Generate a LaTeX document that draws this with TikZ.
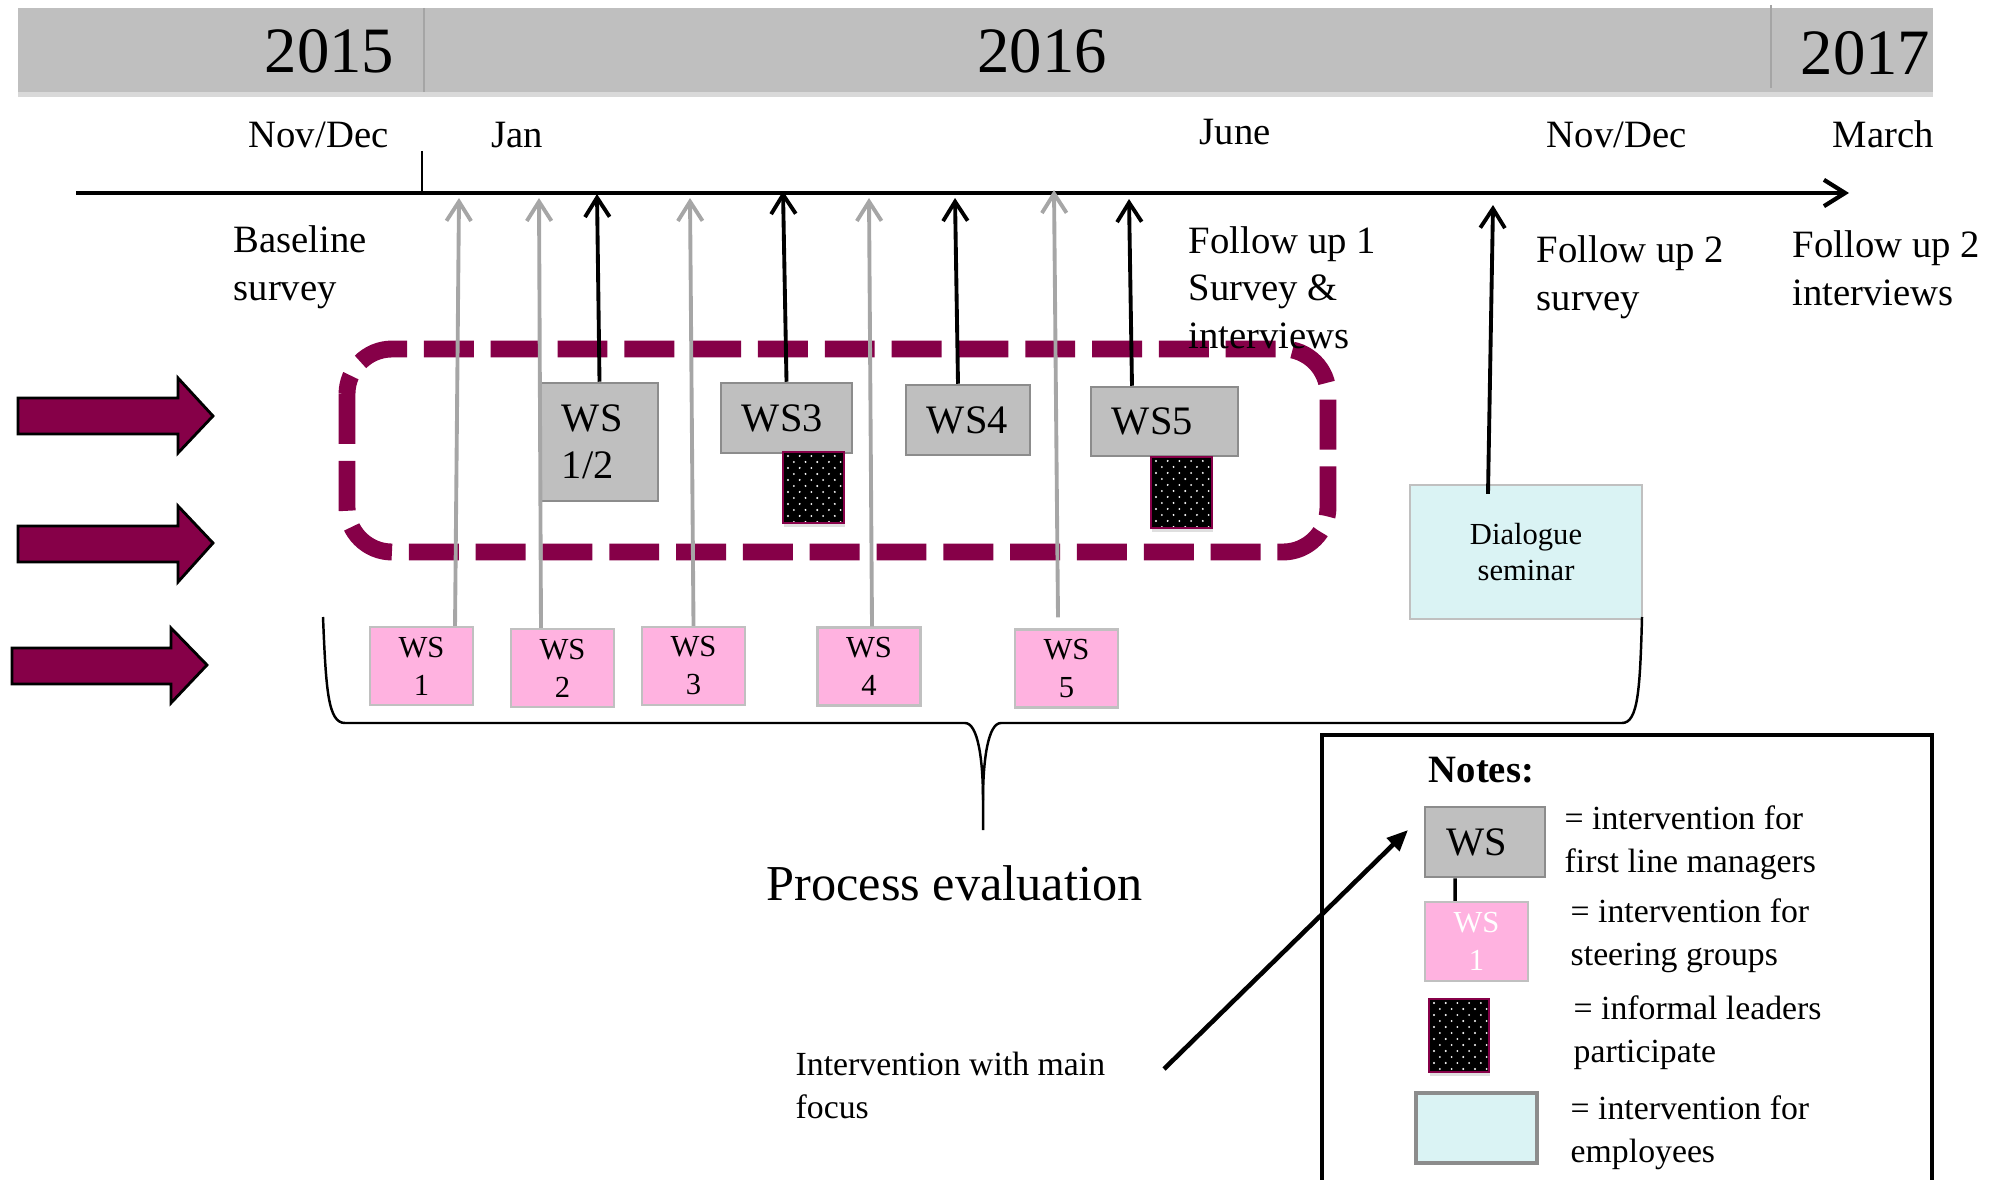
\documentclass[tikz,border=0pt]{standalone}
\usepackage{fontspec}
\setmainfont{Liberation Serif}
\usetikzlibrary{arrows.meta,shadows,calc}
\definecolor{band}{RGB}{191,191,191}
\definecolor{bandline}{RGB}{165,165,165}
\definecolor{maroon}{RGB}{134,0,72}
\definecolor{agray}{RGB}{166,166,166}
\definecolor{boxgray}{RGB}{191,191,191}
\definecolor{boxedge}{RGB}{140,140,140}
\definecolor{pinkfill}{RGB}{255,178,224}
\definecolor{pinkedge}{RGB}{192,192,192}
\definecolor{cyanfill}{RGB}{218,243,244}
\newcommand\fsz[2]{\fontsize{#1}{#2}\selectfont}
\tikzset{
  lbl/.style={inner sep=0pt, anchor=base west, align=left, font=\fsz{11}{13.4}},
  year/.style={inner sep=0pt, font=\fsz{18.4}{22}},
  gws/.style={draw=boxedge, fill=boxgray, line width=0.7pt, align=left, inner ysep=0pt, inner xsep=0.21cm, font=\fsz{11.5}{13.4}},
  pws/.style={draw=pinkedge, fill=pinkfill, line width=0.6pt, minimum width=1.03cm, minimum height=0.78cm, align=center, inner sep=0pt, font=\fsz{8.7}{10.8}},
  dlg/.style={draw=pinkedge, fill=cyanfill, line width=0.6pt, minimum width=2.32cm, minimum height=1.34cm, align=center, inner sep=0pt, font=\fsz{8.7}{10.5}},
  dotbox/.style={draw=maroon, fill=black, line width=0.7pt, minimum width=0.61cm, minimum height=0.71cm, inner sep=0pt,
    drop shadow={shadow xshift=0.4pt, shadow yshift=-1.2pt, opacity=0.25},
    path picture={
      \foreach \j in {0,...,12}{
        \foreach \i in {0,...,5}{
          \fill[white] ($(path picture bounding box.north west)+({\i*11.7+mod(\j,2)*5.85+5},{\j*6+4})$) circle[radius=0.3pt];
        }
      }
    }},
  garrow/.style={draw=agray, line width=1.1pt, -{Straight Barb[length=5.5pt,width=7pt]}},
  barrow/.style={draw=black, line width=1.1pt, -{Straight Barb[length=5.5pt,width=7pt]}},
  bigarrow/.style={fill=maroon, draw=black, line width=0.8pt, line join=miter},
  legtxt/.style={inner sep=0pt, anchor=base west, align=left, font=\fsz{9.6}{12}},
}
\begin{document}
\begin{tikzpicture}[x=0.01cm,y=-0.01cm]
\useasboundingbox (0,0) rectangle (2004,1179);

% header band
\fill[band, drop shadow={shadow xshift=0pt, shadow yshift=-1.5pt, opacity=0.3}] (18,8) rectangle (1933,92);
\draw[bandline, line width=0.5pt] (424,8) -- (424,92);
\draw[bandline, line width=0.5pt] (1771,5) -- (1771,88);
\node[year, anchor=base east] (y15) at (395,73) {2015};
\node[year, anchor=base] (y16) at (1042,73) {2016};
\node[year, anchor=base east] (y17) at (1931,75) {2017};

% month labels
\node[lbl] (nd1) at (248,148) {Nov/Dec};
\node[lbl] (jan) at (491,148) {Jan};
\node[lbl] (jun) at (1199,145) {June};
\node[lbl] (nd2) at (1546,148) {Nov/Dec};
\node[lbl] (mar) at (1832,148) {March};

% time axis
\coordinate (axL) at (76,193);
\coordinate (axR) at (1849,193);
\draw[line width=1.2pt, -{Straight Barb[length=6pt,width=7.5pt]}] (axL) -- (axR);
\coordinate (tk) at (422,151);
\draw[line width=0.6pt] (tk) -- (tk |- axL);

% dashed frame
\draw[maroon, line width=4.8pt, dash pattern=on 14.2pt off 4.8pt, rounded corners=0.45cm] (347,349) rectangle (1328,552);

% big arrows
\draw[bigarrow] (18,398) -- (178,398) -- (178,378) -- (213,416) -- (178,453) -- (178,434) -- (18,434) -- cycle;
\draw[bigarrow] (18,526) -- (178,526) -- (178,506) -- (213,543) -- (178,582) -- (178,562) -- (18,562) -- cycle;
\draw[bigarrow] (12,648) -- (171,648) -- (171,628) -- (207,665) -- (171,703) -- (171,684) -- (12,684) -- cycle;

% survey texts (anchor = baseline of last line)
\node[lbl] (base) at (233,300) {Baseline\\survey};
\node[lbl] (fu1) at (1188,348) {Follow up 1\\Survey \&\\interviews};
\node[lbl] (fu2s) at (1536,310) {Follow up 2\\survey};
\node[lbl] (fu2i) at (1792,305) {Follow up 2\\interviews};

% gray workshop boxes
\node[gws, minimum height=1.18cm, text width=0.75cm] (ws12) at (599.5,442) {WS\\1/2};
\node[gws, minimum height=0.70cm, text width=0.89cm] (ws3) at (786.5,418) {WS3};
\node[gws, minimum height=0.70cm, text width=0.82cm] (ws4) at (968,420) {WS4};
\node[gws, minimum height=0.69cm, text width=1.05cm] (ws5) at (1164.5,421.5) {WS5};

% dotted boxes
\node[dotbox] (d1) at (813.5,487.5) {};
\node[dotbox] (d2) at (1181.5,492.5) {};

% pink boxes
\node[pws] (p1) at (421.5,666) {WS\\1};
\node[pws] (p2) at (562.5,668) {WS\\2};
\node[pws] (p3) at (693.5,666) {WS\\3};
\node[pws] (p4) at (869,666.5) {WS\\4};
\node[pws] (p5) at (1066.5,668.5) {WS\\5};

% dialogue seminar
\node[dlg] (dlg) at (1526,552) {Dialogue\\seminar};

% arrow tips on the axis
\coordinate (t1) at (459,198);
\coordinate (t2) at (539,198);
\coordinate (t3) at (690,198);
\coordinate (t4) at (869,198);
\coordinate (t5) at (1054,190);
\coordinate (s1) at (597,194);
\coordinate (s2) at (783,191);
\coordinate (s3) at (955,198);
\coordinate (s4) at (1129,199);
\coordinate (s5) at (1493,205);

\draw[garrow] ([xshift=0.335cm]p1.north) -- (t1);
\draw[garrow] ([xshift=-0.215cm]p2.north) -- (t2);
\draw[garrow] (p3.north) -- (t3);
\draw[garrow] ([xshift=0.03cm]p4.north) -- (t4);
\draw[garrow] ([xshift=-0.085cm,yshift=0.11cm]p5.north) -- (t5);
\draw[barrow] (ws12.north) -- (s1);
\draw[barrow] (ws3.north) -- (s2);
\draw[barrow] ([xshift=-0.10cm]ws4.north) -- (s3);
\draw[barrow] ([xshift=-0.325cm]ws5.north) -- (s4);
\draw[barrow] ([xshift=-0.38cm,yshift=-0.10cm]dlg.north) -- (s5);

% brace
\draw[line width=0.7pt] (323,617) .. controls (326,690) and (328,723) .. (345,723) -- (965,723)
  .. controls (978,723) and (983,760) .. (983,800) -- (983,830);
\draw[line width=0.7pt] (983,800) .. controls (983,760) and (988,723) .. (1001,723) -- (1622,723)
  .. controls (1638,723) and (1640,690) .. (1642,617);
\node[lbl, font=\fsz{14.3}{17}] (pe) at (766,900) {Process evaluation};

% pointer text
\node[legtxt, font=\fsz{9.6}{12.2}] (imf) at (795,1118) {Intervention with main\\focus};

% legend
\draw[line width=0.9pt] (1322,1190) -- (1322,735) -- (1932,735) -- (1932,1190);
\node[lbl, font=\bfseries\fsz{11}{13}] (notes) at (1428,782) {Notes:};
\node[gws, minimum height=0.70cm, text width=0.78cm] (lws) at (1485,842) {WS};
\node[pws, font=\color{white}\fsz{8.7}{10.8}, minimum height=0.79cm] (lpk) at (1476.5,941.5) {WS\\1};
\draw[line width=1pt] ([xshift=-0.30cm]lws.south) -- ([xshift=-0.215cm]lpk.north);
\node[dotbox, minimum width=0.60cm, minimum height=0.73cm] (ld) at (1459,1035.5) {};
\node[draw=boxedge, fill=cyanfill, line width=0.9pt, minimum width=1.21cm, minimum height=0.70cm, inner sep=0pt] (lcy) at (1476.5,1128) {};
\node[legtxt] (l1) at (1564,872) {= intervention for\\first line managers};
\node[legtxt] (l2) at (1570,965) {= intervention for\\steering groups};
\node[legtxt] (l3) at (1573,1062) {= informal leaders\\participate};
\node[legtxt] (l4) at (1570,1162) {= intervention for\\employees};

\coordinate (ps) at (1164,1069);
\coordinate (pt) at (1408,830);
\draw[line width=1.3pt, -{Triangle[length=6pt,width=5pt]}] (ps) -- (pt);
\end{tikzpicture}
\end{document}
